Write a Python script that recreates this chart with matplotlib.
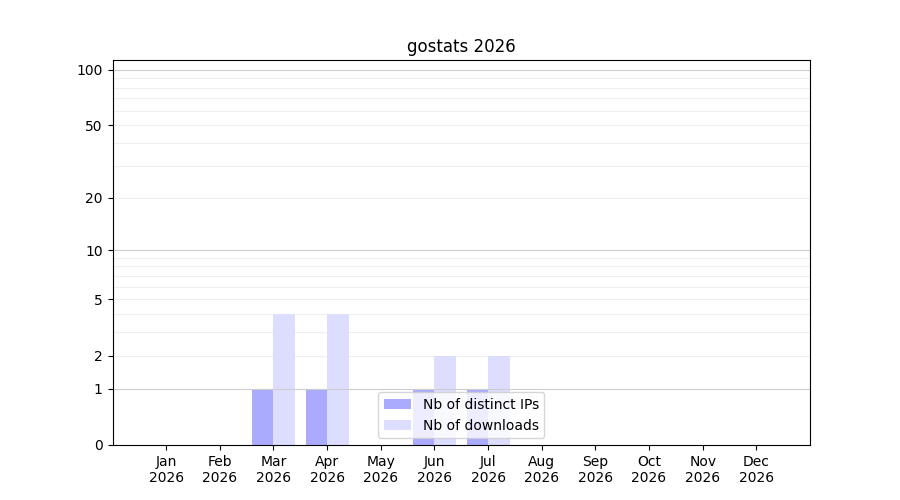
import numpy as np
import matplotlib
matplotlib.use("Agg")
import matplotlib.pyplot as plt

months = ["Jan", "Feb", "Mar", "Apr", "May", "Jun", "Jul", "Aug", "Sep", "Oct", "Nov", "Dec"]
year = 2026
distinct_ips = [0, 0, 1, 1, 0, 1, 1, 0, 0, 0, 0, 0]
downloads = [0, 0, 4, 4, 0, 2, 2, 0, 0, 0, 0, 0]

yticks = [0, 1, 2, 5, 10, 20, 50, 100]
major_grid = [1, 10, 100]
minor_grid = [2, 3, 4, 5, 6, 7, 8, 9, 20, 30, 40, 50, 60, 70, 80, 90]


def fwd(y):
    return np.log10(1 + np.clip(y, 0, None))


def inv(y):
    return 10 ** y - 1


fig, ax = plt.subplots(figsize=(9, 5), dpi=100)
x = np.arange(len(months))
w = 0.4

ax.bar(x - w / 2, distinct_ips, width=w, color="#aaaaff", label="Nb of distinct IPs", zorder=1)
ax.bar(x + w / 2, downloads, width=w, color="#ddddff", label="Nb of downloads", zorder=1)

ax.set_yscale("function", functions=(fwd, inv))
ax.set_ylim(0, 113)
ax.set_xlim(-1, 12)

# light lines behind the bars, darker decade lines on top
for v in minor_grid:
    ax.axhline(v, color="#eeeeee", linewidth=0.8, zorder=0.5)
for v in major_grid:
    ax.axhline(v, color="#cccccc", linewidth=0.8, zorder=2)

ax.set_yticks(yticks)
ax.set_yticklabels([str(t) for t in yticks])
ax.yaxis.set_minor_locator(matplotlib.ticker.NullLocator())
ax.set_xticks(x)
ax.set_xticklabels([f"{m}\n{year}" for m in months])

ax.set_title(f"gostats {year}")
ax.legend(loc="lower center")

fig.savefig("out.png")
